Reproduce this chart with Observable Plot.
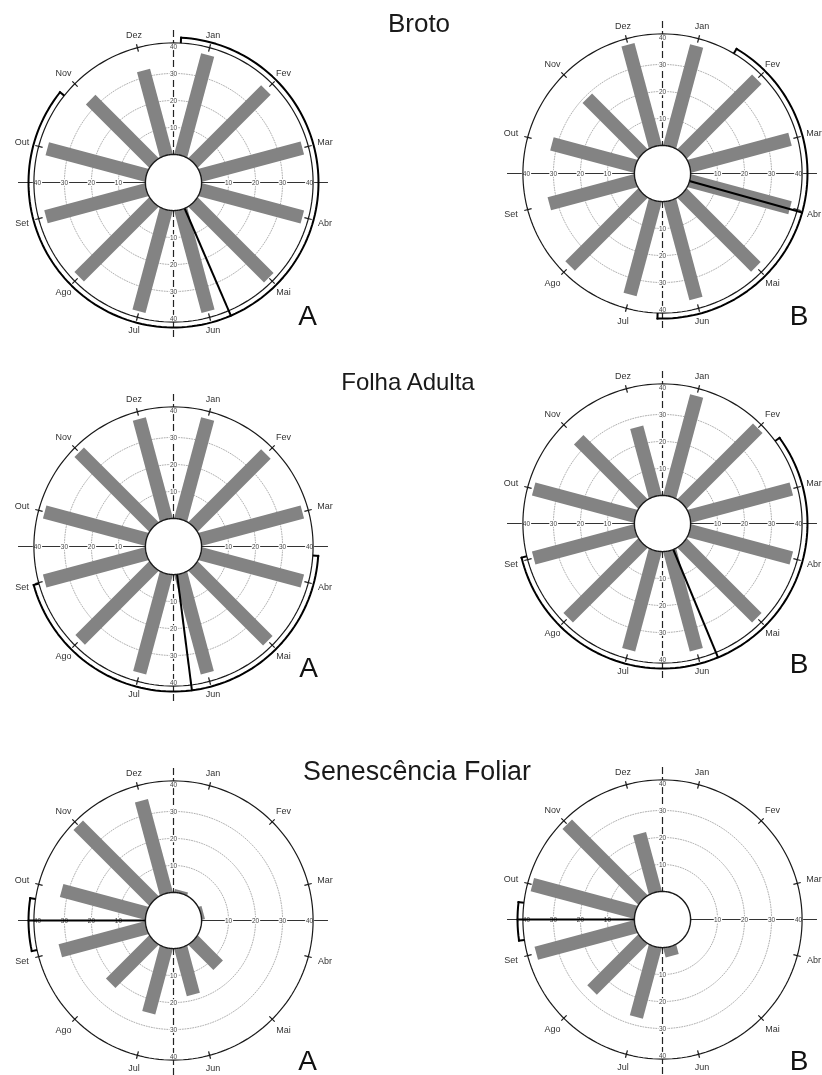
<!DOCTYPE html>
<html><head><meta charset="utf-8">
<script src="https://cdn.jsdelivr.net/npm/d3@7"></script>
<script src="https://cdn.jsdelivr.net/npm/@observablehq/plot@0.6"></script>
<style>
html,body{margin:0;padding:0;background:#fff;overflow:hidden;}
#page{position:relative;width:822px;height:1075px;overflow:hidden;font-family:"Liberation Sans",Arial,sans-serif;}
.panel{position:absolute;width:360px;height:360px;will-change:transform;}
#overlay{position:absolute;left:0;top:0;}
</style></head><body><div id="page"></div>
<script>
// ---- data ----
const months = ["Jan","Fev","Mar","Abr","Mai","Jun","Jul","Ago","Set","Out","Nov","Dez"];
const radialTicks = [10, 20, 30, 40];
const brotoA = [38.5, 38, 39, 39, 39.5, 39, 39, 39, 38.5, 38, 33, 32.5];
const brotoB = [38.5, 39, 38.5, 38.5, 38.5, 37.5, 36, 38, 33, 32, 29, 39];
const folhaA = [38.5, 38, 39, 39, 39, 38, 38, 38.5, 39, 39, 39, 38.5];
const folhaB = [38.5, 39.5, 39, 39, 39, 38, 38, 39, 39, 39, 33.5, 26.5];
const senA   = [1, 0, 1, 0, 13, 18, 25, 22.5, 33, 32.5, 39.5, 35.5];
const senB   = [0, 0, 0, 0, 0, 3.5, 27, 26.5, 38, 39.5, 39.5, 22.5];
const meanDir = [156.7, 105.6, 172.7, 157.5, 270, 270];   // mean angle (deg, clockwise from top)
const arcFrom = [3, 30.7, 93.7, 53.8, 257.8, 261.6];
const arcTo   = [308.5, 182, 254.6, 256.4, 278.9, 276.9];
const titles = ["Broto", "Folha Adulta", "Senescência Foliar"];
const tags = ["A", "B"];

// ---- layout ----
const S = 360;          // panel svg size (px)
const K = 2.7;          // px per radial unit
const HOLE = 10.4;      // radius of central hole in units
const HALF = S / 2 / K;
const centers = [[173,181.5],[662,172.5],[172.5,546],[662,523],[172.5,919.5],[662,919]];
const titlePos = [[419,31.7],[408,390],[417,780]];
const titleSize = [26, 24, 26.8];
const tagPos = [[307.5,325],[799,325],[308.5,676.5],[799,673],[307.5,1070],[799,1070]];
const FONT = "Liberation Sans, Arial, sans-serif";

const rad = d => d * Math.PI / 180;
const px = (R, a) => R * Math.sin(rad(a));
const py = (R, a) => R * Math.cos(rad(a));
function ring(R, a0 = 0, a1 = 360) {
  const n = Math.max(2, Math.ceil(Math.abs(a1 - a0) / 2));
  return d3.range(n + 1).map(i => { const a = a0 + (a1 - a0) * i / n; return {x: px(R, a), y: py(R, a)}; });
}

function panel(values, mean, a0, a1) {
  const bars = months.map((m, i) => ({m, v: values[i], a: 15 + 30 * i}));
  const rOuter = HOLE + 41.3, rArc = HOLE + 43.3, rMean = HOLE + 43.6, rAxis = HOLE + 47;
  const rT1 = HOLE + 39.8, rT2 = HOLE + 42.6;
  const labR = a => HOLE + 45.6 + 2.2 * Math.abs(Math.sin(rad(a)));   // wider offset at the sides
  const tickLabels = radialTicks.flatMap(v => [
    {x: HOLE + v, y: 0, t: v}, {x: -(HOLE + v), y: 0, t: v},
    {x: 0, y: HOLE + v, t: v}, {x: 0, y: -(HOLE + v), t: v}]);
  const caps = [a0, a1].map(a => ({a}));
  const marks = [];
  radialTicks.slice(0, 3).forEach(v => marks.push(
    Plot.line(ring(HOLE + v), {x: "x", y: "y", stroke: "#9a9a9a", strokeWidth: 0.8, strokeDasharray: "1,1.6"})));
  marks.push(Plot.ruleY([0], {x1: -rAxis, x2: rAxis, stroke: "#333", strokeWidth: 1}));
  marks.push(Plot.ruleX([0], {y1: -rAxis, y2: rAxis, stroke: "#222", strokeWidth: 1.2, strokeDasharray: "7,3"}));
  marks.push(Plot.link(bars, {x1: 0, y1: 0, x2: d => px(HOLE + d.v, d.a), y2: d => py(HOLE + d.v, d.a),
    stroke: "#838383", strokeWidth: 13.5, strokeLinecap: "butt"}));
  marks.push(Plot.text(tickLabels, {x: "x", y: "y", text: "t", fontSize: 6.5, fill: "#444", stroke: "white", strokeWidth: 2.5}));
  marks.push(Plot.line(ring(rOuter), {x: "x", y: "y", stroke: "#1a1a1a", strokeWidth: 1.2}));
  marks.push(Plot.link(bars, {x1: d => px(rT1, d.a), y1: d => py(rT1, d.a), x2: d => px(rT2, d.a), y2: d => py(rT2, d.a),
    stroke: "#1a1a1a", strokeWidth: 1.2}));
  marks.push(Plot.line(ring(rArc, a0, a1), {x: "x", y: "y", stroke: "#000", strokeWidth: 2}));
  marks.push(Plot.link(caps, {x1: d => px(rArc - 2, d.a), y1: d => py(rArc - 2, d.a), x2: d => px(rArc + 0.4, d.a), y2: d => py(rArc + 0.4, d.a),
    stroke: "#000", strokeWidth: 2}));
  marks.push(Plot.link([{a: mean}], {x1: 0, y1: 0, x2: d => px(rMean, d.a), y2: d => py(rMean, d.a), stroke: "#000", strokeWidth: 2}));
  marks.push(Plot.line(ring(HOLE), {x: "x", y: "y", fill: "white", stroke: "#1a1a1a", strokeWidth: 1.4}));
  marks.push(Plot.text(bars, {x: d => px(labR(d.a), d.a), y: d => py(labR(d.a), d.a), text: "m", fontSize: 9, fill: "#333"}));
  return Plot.plot({
    width: S, height: S, margin: 0,
    x: {domain: [-HALF, HALF], axis: null},
    y: {domain: [-HALF, HALF], axis: null},
    style: {background: "transparent", fontFamily: FONT},
    marks
  });
}

const page = document.getElementById("page");
const series = [brotoA, brotoB, folhaA, folhaB, senA, senB];
series.forEach((vals, i) => {
  const div = document.createElement("div");
  div.className = "panel";
  div.style.left = (centers[i][0] - S / 2) + "px";
  div.style.top = (centers[i][1] - S / 2) + "px";
  div.appendChild(panel(vals, meanDir[i], arcFrom[i], arcTo[i]));
  page.appendChild(div);
});

const svg = d3.select(page).append("svg").attr("id", "overlay").attr("width", 822).attr("height", 1075)
  .style("font-family", FONT);
svg.selectAll("text.title").data(titles).join("text").attr("class", "title")
  .attr("x", (d, i) => titlePos[i][0]).attr("y", (d, i) => titlePos[i][1])
  .attr("text-anchor", "middle").attr("font-size", (d, i) => titleSize[i]).attr("fill", "#1a1a1a").text(d => d);
svg.selectAll("text.tag").data(tagPos).join("text").attr("class", "tag")
  .attr("x", d => d[0]).attr("y", d => d[1])
  .attr("text-anchor", "middle").attr("font-size", 28).attr("fill", "#111").text((d, i) => tags[i % 2]);
</script></body></html>
